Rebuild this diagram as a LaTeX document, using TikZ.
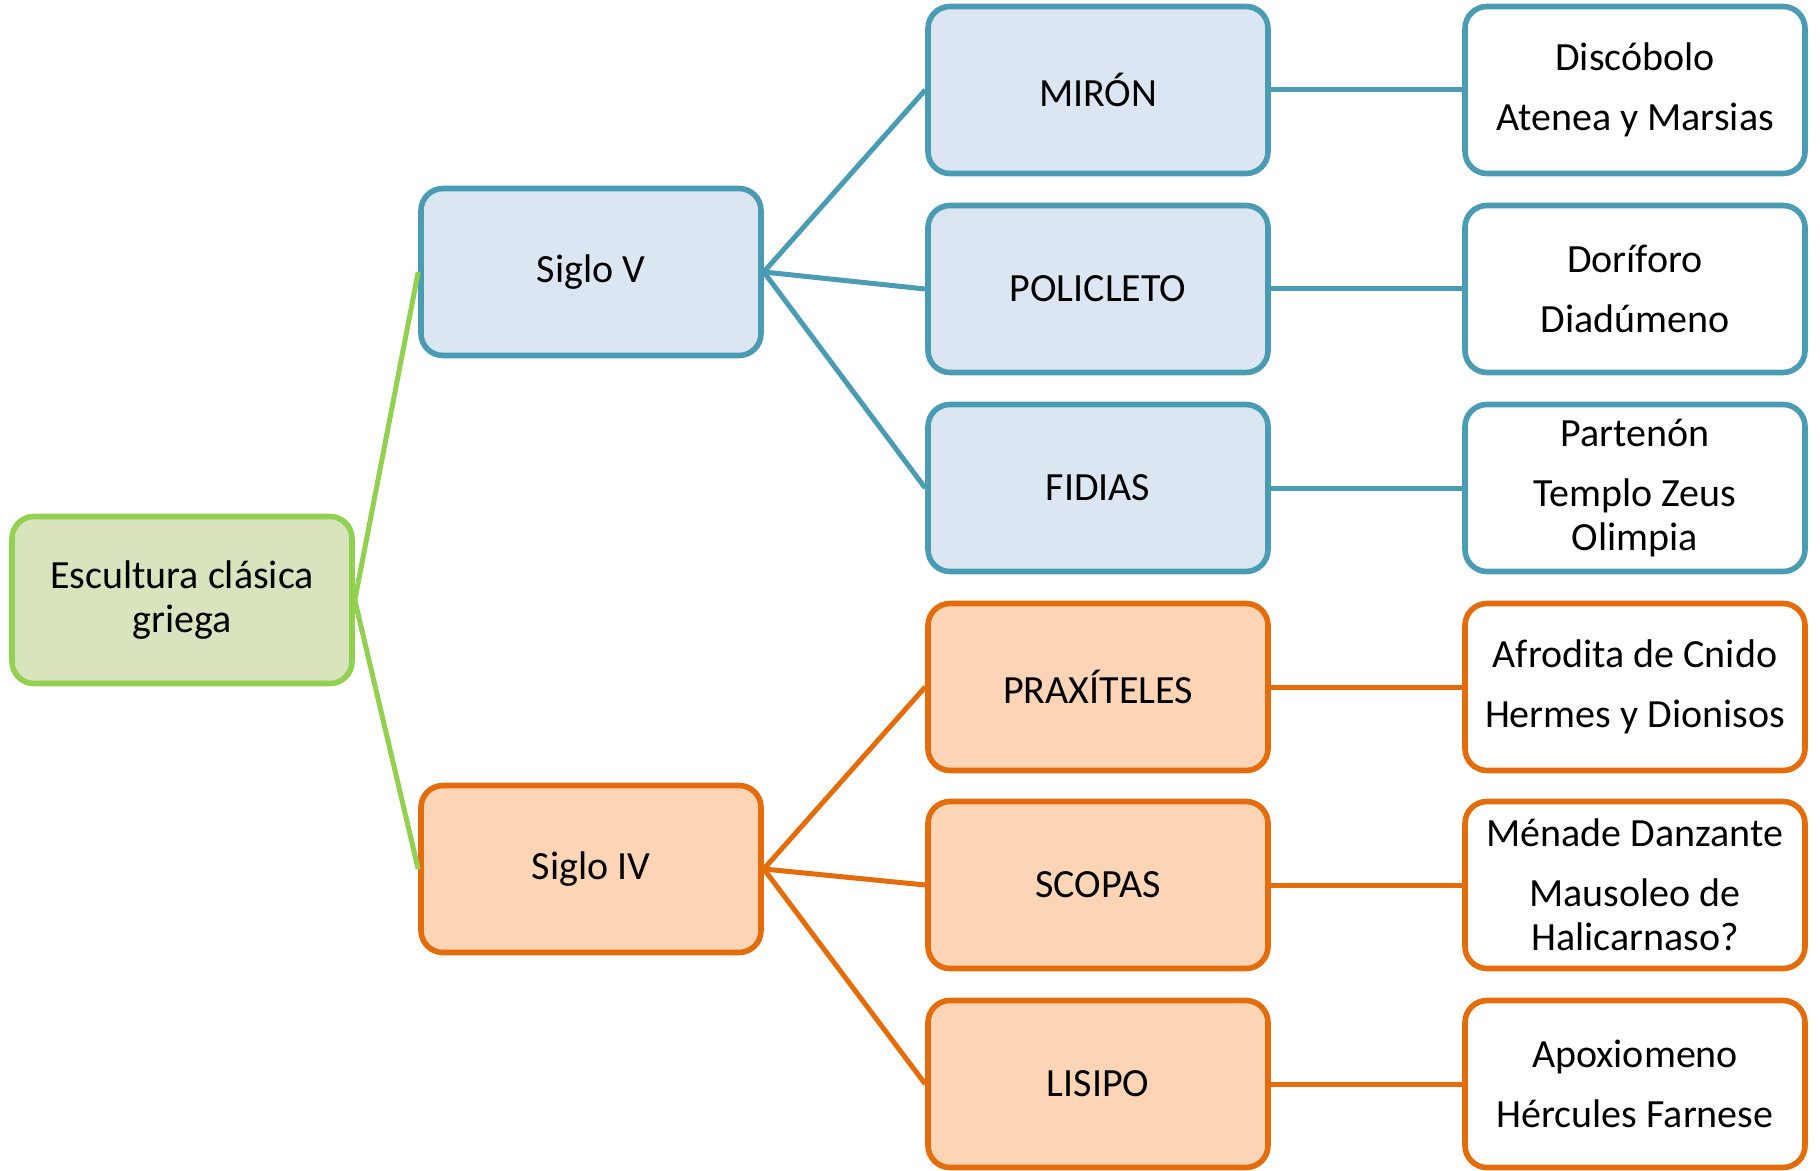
\documentclass[tikz,border=0pt]{standalone}
\usepackage{fontspec}
\setmainfont{Carlito}
\definecolor{blueline}{HTML}{4A9CB4}
\definecolor{bluefill}{HTML}{DCE6F2}
\definecolor{orangeline}{HTML}{E46C0A}
\definecolor{orangefill}{HTML}{FBD5B5}
\definecolor{greenline}{HTML}{92D050}
\definecolor{greenfill}{HTML}{D7E4BD}
\begin{document}
\begin{tikzpicture}[x=0.5pt,y=-0.5pt,
  box/.style={rounded corners=11pt, line width=2.8pt, minimum width=170pt,
    minimum height=83.5pt, align=center, inner sep=0pt,
    font=\fontsize{20}{22}\selectfont},
  rootbox/.style={box, draw=greenline, fill=greenfill},
  bluebox/.style={box, draw=blueline, fill=bluefill},
  orangebox/.style={box, draw=orangeline, fill=orangefill},
  bluework/.style={box, draw=blueline, fill=white},
  orangework/.style={box, draw=orangeline, fill=white},
  greenconn/.style={draw=greenline, line width=2.5pt},
  blueconn/.style={draw=blueline, line width=2.5pt},
  orangeconn/.style={draw=orangeline, line width=2.5pt}]
\useasboundingbox (0,0) rectangle (1820,1171);
% level 1
\node[rootbox] (root) at (182,600) {Escultura clásica\\griega};
% level 2
\node[bluebox] (s5) at (591,272) {Siglo V};
\node[orangebox] (s4) at (591,869) {Siglo IV};
% level 3
\node[bluebox] (miron) at (1098,90) {MIRÓN};
\node[bluebox] (policleto) at (1098,289) {POLICLETO};
\node[bluebox] (fidias) at (1098,488) {FIDIAS};
\node[orangebox] (praxiteles) at (1098,687) {PRAXÍTELES};
\node[orangebox] (scopas) at (1098,885) {SCOPAS};
\node[orangebox] (lisipo) at (1098,1084) {LISIPO};
% level 4
\node[bluework] (wmiron) at (1635,90) {Discóbolo\\[8pt]Atenea y Marsias};
\node[bluework] (wpoli) at (1635,289) {Doríforo\\[8pt]Diadúmeno};
\node[bluework] (wfidias) at (1635,488) {Partenón\\[8pt]Templo Zeus\\Olimpia};
\node[orangework] (wprax) at (1635,687) {Afrodita de Cnido\\[8pt]Hermes y Dionisos};
\node[orangework] (wscopas) at (1635,885) {Ménade Danzante\\[8pt]Mausoleo de\\Halicarnaso?};
\node[orangework] (wlisipo) at (1635,1084) {Apoxiomeno\\[8pt]Hércules Farnese};
% connectors
\draw[greenconn] (root.east) -- (s5.west);
\draw[greenconn] (root.east) -- (s4.west);
\draw[blueconn] (s5.east) -- (miron.west);
\draw[blueconn] (s5.east) -- (policleto.west);
\draw[blueconn] (s5.east) -- (fidias.west);
\draw[orangeconn] (s4.east) -- (praxiteles.west);
\draw[orangeconn] (s4.east) -- (scopas.west);
\draw[orangeconn] (s4.east) -- (lisipo.west);
\draw[blueconn] (miron.east) -- (wmiron.west);
\draw[blueconn] (policleto.east) -- (wpoli.west);
\draw[blueconn] (fidias.east) -- (wfidias.west);
\draw[orangeconn] (praxiteles.east) -- (wprax.west);
\draw[orangeconn] (scopas.east) -- (wscopas.west);
\draw[orangeconn] (lisipo.east) -- (wlisipo.west);
\end{tikzpicture}
\end{document}
